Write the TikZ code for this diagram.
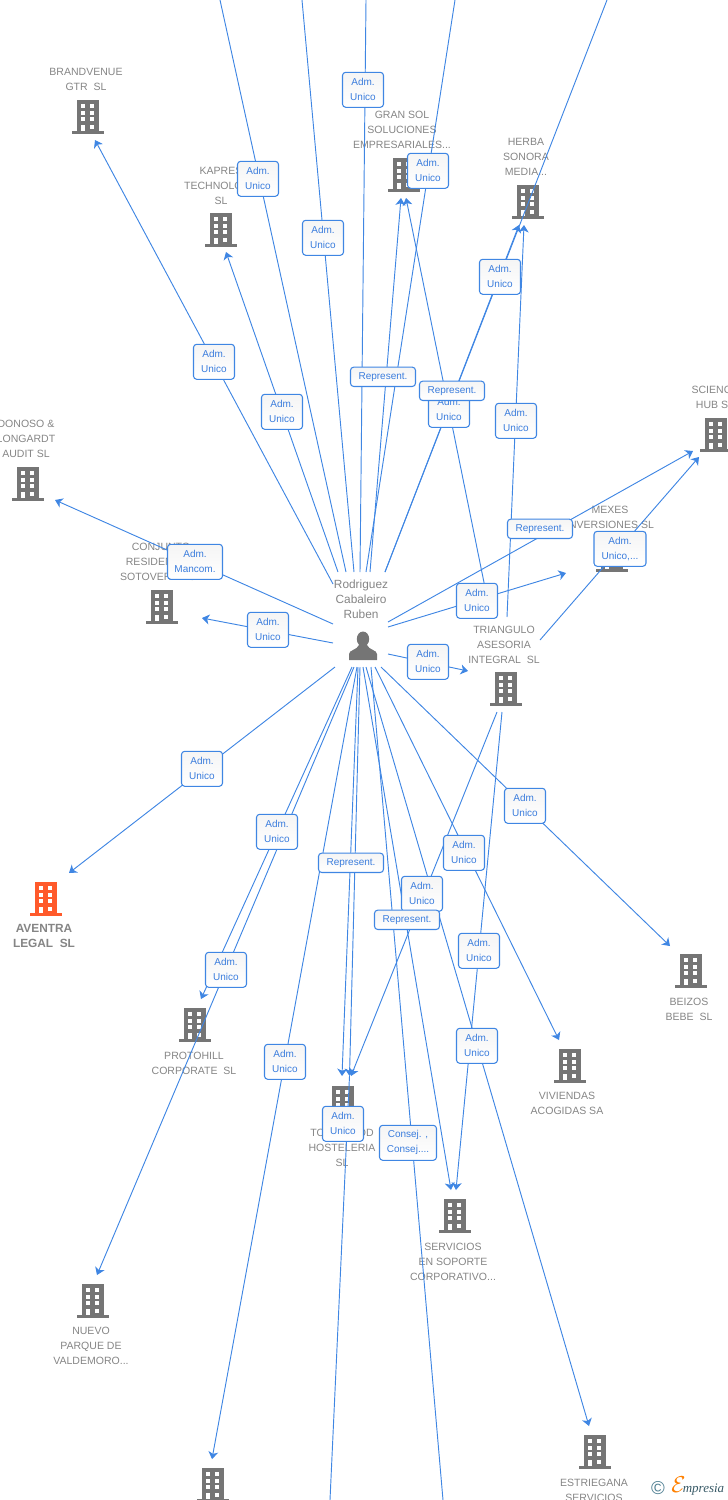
\documentclass[tikz,border=0pt]{standalone}
\usepackage{fontspec}
\setmainfont{Liberation Sans}
\newfontfamily\logofont{Liberation Serif}
\usetikzlibrary{arrows.meta}
\definecolor{gris}{HTML}{757575}
\definecolor{grislabel}{HTML}{858585}
\definecolor{azul}{HTML}{3F86E3}
\definecolor{azultexto}{HTML}{3B7DDD}
\definecolor{naranja}{HTML}{FF5A2B}
\definecolor{tealogo}{HTML}{4F7F92}
\tikzset{
	edificio/.pic={
		\fill[pic actions] (-11.4,-17) rectangle (11.4,14);
		\fill[pic actions] (-16,14) rectangle (16,17);
		\foreach \Fila in {-13,-6.3,0.3}{
			\fill[white] (-7.3,\Fila) rectangle (-2.8,\Fila+4);
			\fill[white] (1.7,\Fila) rectangle (6.3,\Fila+4);
		}
		\fill[white] (-7.3,7.7) rectangle (-2.8,14);
		\fill[white] (1.7,7.7) rectangle (6.3,11.7);
	},
	persona/.pic={
		\fill[pic actions] (0,-8) ellipse (6.2 and 7.5);
		\fill[pic actions] (-14,13) -- (-14,7) .. controls (-14,3) and (-6,3) .. (-4,-2) -- (4,-2) .. controls (6,3) and (14,3) .. (14,7) -- (14,13) -- cycle;
	},
	empresa/.style={font=\fontsize{7.9}{11.25}\selectfont,text=grislabel,align=center,inner sep=0pt,yshift=-0.75pt},
	etiq/.style={draw=azul,line width=0.8pt,rounded corners=2.4pt,top color=black!4,bottom color=white,text=azultexto,
		font=\fontsize{7.5}{11.25}\selectfont,align=center,inner sep=0pt,minimum width=30.75pt,minimum height=26.25pt,yshift=-0.6pt},
	etiqr/.style={etiq,minimum width=48.75pt,minimum height=14.5pt},
	enlace/.style={azul,line width=0.7pt},
	flecha/.style={enlace,-{Stealth[length=5.5pt,width=7.5pt,inset=1.6pt]}}
}
\begin{document}
\begin{tikzpicture}[x=0.75pt,y=-0.75pt]
	\useasboundingbox (0,0) rectangle (728,1500);
	\foreach \Px/\Py in {88/117,221/230,404/175,528/202,716/435,28/484,162/607,612/555,506/689,343/1103,691/971,570/1066,455/1216,595/1452,93/1301,195/1025,213/1485}
		\pic[fill=gris] at (\Px,\Py) {edificio};
	\pic[fill=naranja] at (46,899) {edificio};
	\pic[fill=gris] at (363,647) {persona};

	\node[empresa] (brandvenue) at (86,78.5) {BRANDVENUE\\GTR~ SL};
	\node[empresa] (kapres) at (221,184.5) {KAPRES\\TECHNOLOGY\\SL};
	\node[empresa] (gransol) at (402,129) {GRAN SOL\\SOLUCIONES\\EMPRESARIALES...};
	\node[empresa] (herba) at (526,156) {HERBA\\SONORA\\MEDIA...};
	\node[empresa] (science) at (715,396.5) {SCIENCE\\HUB SL};
	\node[empresa] (donoso) at (26,438) {DONOSO \&\\LONGARDT\\AUDIT SL};
	\node[empresa] (conjunto) at (161,561) {CONJUNTO\\RESIDENCIAL\\SOTOVERDE SL};
	\node[empresa] (mexes) at (610,516.5) {MEXES\\INVERSIONES SL};
	\node[empresa] (triangulo) at (504,644) {TRIANGULO\\ASESORIA\\INTEGRAL~ SL};
	\node[empresa,font=\fontsize{8.9}{11.25}\selectfont] (rodriguez) at (361,598) {Rodriguez\\Cabaleiro\\Ruben};
	\node[empresa] (toledo) at (342,1147) {TOTALFOOD\\HOSTELERIA\\SL};
	\node[empresa] (beizos) at (689,1008.5) {BEIZOS\\BEBE~ SL};
	\node[empresa] (viviendas) at (567,1102.5) {VIVIENDAS\\ACOGIDAS SA};
	\node[empresa] (servicios) at (453,1261) {SERVICIOS\\EN SOPORTE\\CORPORATIVO...};
	\node[empresa] (estriegana) at (594,1489) {ESTRIEGANA\\SERVICIOS};
	\node[empresa] (nuevo) at (91,1345) {NUEVO\\PARQUE DE\\VALDEMORO...};
	\node[empresa] (protohill) at (194,1062.5) {PROTOHILL\\CORPORATE~ SL};
	\node[empresa,font=\fontsize{8.9}{11.25}\selectfont\bfseries] (aventra) at (44,934.5) {AVENTRA\\LEGAL~ SL};

	\coordinate (a1) at (333,584);   \coordinate (b1) at (95,140);
	\coordinate (a2) at (338,572);   \coordinate (b2) at (226,252);
	\coordinate (a3) at (370,572);   \coordinate (b3) at (401,198);
	\coordinate (a4) at (491,617);   \coordinate (b4) at (406,198);
	\coordinate (a5) at (385,572);   \coordinate (b5) at (519,225);
	\coordinate (a6) at (507,617);   \coordinate (b6) at (524,225);
	\coordinate (a7) at (388,622);   \coordinate (b7) at (693,451);
	\coordinate (a8) at (540,640);   \coordinate (b8) at (699,457);
	\coordinate (a9) at (388,627);   \coordinate (b9) at (566,573);
	\coordinate (a10) at (388,654);  \coordinate (b10) at (468,671);
	\coordinate (a11) at (333,624);  \coordinate (b11) at (55,500);
	\coordinate (a12) at (333,643);  \coordinate (b12) at (202,618);
	\coordinate (a13) at (335,667);  \coordinate (b13) at (69,873);
	\coordinate (a14) at (352,667);  \coordinate (b14) at (201,999);
	\coordinate (a15) at (354,667);  \coordinate (b15) at (97,1275);
	\coordinate (a16) at (357,667);  \coordinate (b16) at (212,1459);
	\coordinate (a17) at (358,667);  \coordinate (b17) at (342,1076);
	\coordinate (a18) at (360,667);  \coordinate (b18) at (349.5,1076);
	\coordinate (a19) at (497,712);  \coordinate (b19) at (351,1076);
	\coordinate (a20) at (381,667);  \coordinate (b20) at (670,946);
	\coordinate (a21) at (375,667);  \coordinate (b21) at (559,1040);
	\coordinate (a22) at (502,712);  \coordinate (b22) at (456,1190);
	\coordinate (a23) at (363,667);  \coordinate (b23) at (451,1190);
	\coordinate (a24) at (366,667);  \coordinate (b24) at (589,1426);
	\coordinate (a25) at (346,572);  \coordinate (b25) at (220,0);
	\coordinate (a26) at (354,572);  \coordinate (b26) at (302,0);
	\coordinate (a27) at (360,572);  \coordinate (b27) at (366,0);
	\coordinate (a28) at (366,572);  \coordinate (b28) at (455,0);
	\coordinate (a29) at (385,572);  \coordinate (b29) at (607,0);
	\coordinate (a30) at (b18);      \coordinate (b30) at (330,1500);
	\coordinate (a31) at (371,667);  \coordinate (b31) at (443,1500);
	\foreach \Nombre in {1,...,24}
		\draw[flecha] (a\Nombre) -- (b\Nombre);
	\foreach \Nombre in {25,...,31}
		\draw[enlace] (a\Nombre) -- (b\Nombre);

	\foreach \Nombre/\Px/\Py in {1/363/89,2/258/178,3/428/170,4/323/237,5/500/276,6/214/361,7/282/411,8/449/409,9/516/420,
		10/477/600,11/428/661,12/268/629,13/202/768,14/277/831,15/525/805,16/464/852,17/422/893,18/226/969,19/479/950,
		20/285/1061,21/477/1045,22/343/1123}
		\node[etiq] (adm\Nombre) at (\Px,\Py) {Adm.\\Unico};
	\node[etiq,minimum width=41.25pt] (mancom) at (195,561) {Adm.\\Mancom.};
	\node[etiq,minimum width=39pt] (varios) at (620,548) {Adm.\\Unico,...};
	\node[etiq,minimum width=42.75pt] (consej) at (408,1142) {Consej. ,\\Consej....};
	\node[etiqr] (rep1) at (383,376) {Represent.};
	\node[etiqr] (rep2) at (452,390) {Represent.};
	\node[etiqr] (rep3) at (540,528) {Represent.};
	\node[etiqr] (rep4) at (351,862) {Represent.};
	\node[etiqr] (rep5) at (407,919) {Represent.};

	\node[text=tealogo,inner sep=0pt,font=\fontsize{14}{14}\selectfont] (copyr) at (658,1488.5) {\textcopyright};
	\node[anchor=base west,inner sep=0pt,font=\logofont\itshape\fontsize{9.75}{12}\selectfont,text=tealogo!70!black] (empresia) at (671,1492) {\textcolor{orange}{\fontsize{17}{17}\selectfont$\mathcal{E}$}\kern-2pt mpresia};
\end{tikzpicture}
\end{document}
